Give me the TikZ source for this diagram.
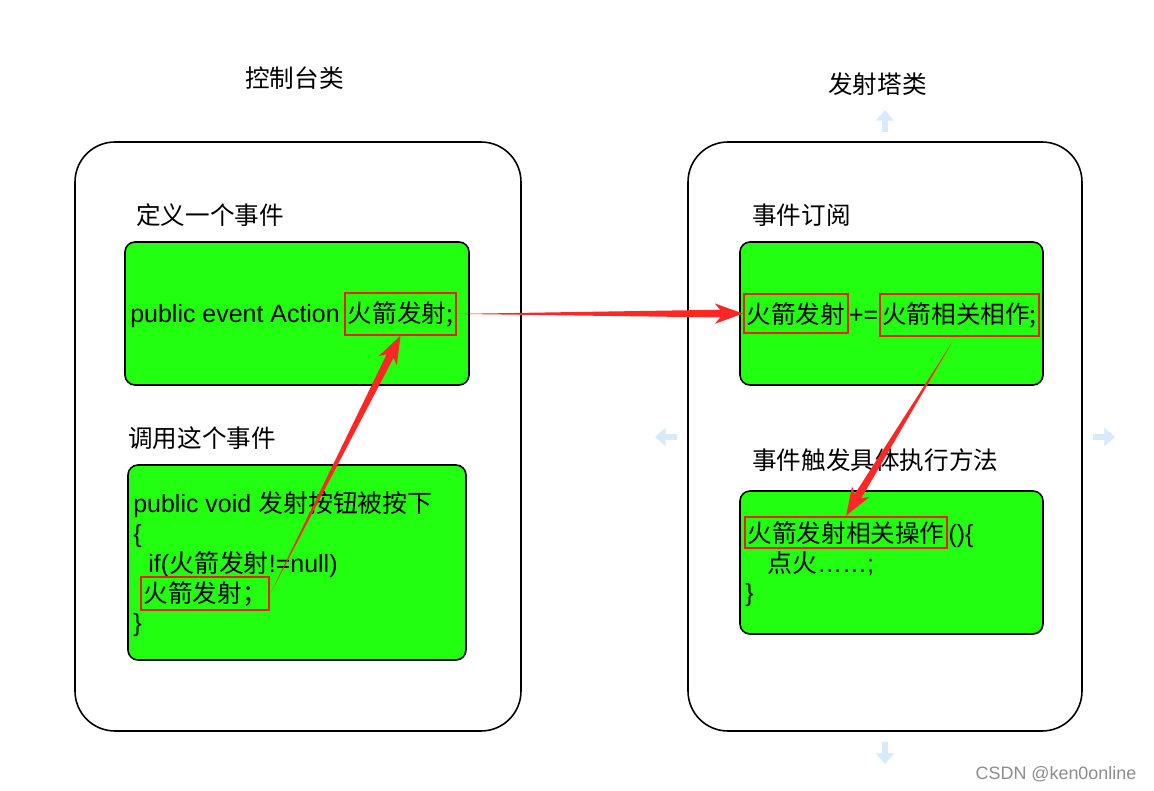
\documentclass[tikz,border=0pt]{standalone}
\usepackage{fontspec}
\setmainfont{Liberation Sans}
\newfontfamily\cjk{Noto Sans CJK SC}
\usetikzlibrary{calc,arrows.meta}

\begin{document}
\begin{tikzpicture}[x=0.02cm,y=-0.02cm,
    lbl/.style={font=\cjk\fontsize{14}{17}\selectfont,anchor=west,inner sep=0pt},
    code/.style={font=\fontsize{14.2}{17}\selectfont,anchor=base west,inner sep=0pt},
    hl/.style={draw=colB,line width=1.2pt,anchor=base west,inner xsep=1.5pt,
               inner ysep=4.5pt,font=\cjk\fontsize{14}{17}\selectfont},
    pane/.style={draw=black,line width=0.9pt,rounded corners=0.8cm},
    card/.style={draw=black,line width=0.9pt,fill=colG,rounded corners=0.2cm},
    taper/.style={fill=colA,to path={
        -- ($(\tikztotarget)!13pt!(\tikztostart)!2.2pt!90:(\tikztotarget)$)
        -- ($(\tikztotarget)!16pt!(\tikztostart)!5.8pt!90:(\tikztotarget)$)
        -- (\tikztotarget)
        -- ($(\tikztotarget)!16pt!(\tikztostart)!5.8pt!-90:(\tikztotarget)$)
        -- ($(\tikztotarget)!13pt!(\tikztostart)!2.2pt!-90:(\tikztotarget)$)
        -- cycle}},
    hint/.style={draw=colH,line width=3pt,-{Triangle[length=6pt,width=10pt]}}]
  \definecolor{colG}{RGB}{34,255,17}
  \definecolor{colA}{RGB}{255,38,38}
  \definecolor{colB}{RGB}{235,30,36}
  \definecolor{colH}{RGB}{214,234,250}
  \useasboundingbox (0,0) rectangle (1154,791);

  % faint hover hints round the launch tower
  \foreach \sx/\sy/\ex/\ey in {885/132/885/110, 677/437/655/437,
                               1093/437/1115/437, 885/742/885/764}
    \draw[hint] (\sx,\sy) -- (\ex,\ey);

  % console class
  \node[lbl] (ttlL) at (245,78) {控制台类};
  \draw[pane] (75,142) rectangle (521,731);
  \node[lbl] (defL) at (136,215) {定义一个事件};
  \draw[card] (125,242) rectangle (469,385);
  \node[code] (t1) at (130,322) {public event Action};
  \node[hl] (r1) at ($(t1.base east)+(4,0)$) {火箭发射;};
  \node[lbl] (callL) at (128,438) {调用这个事件};
  \draw[card] (128,465) rectangle (466,660);
  \node[code] (t2a) at (133,512) {public void {\cjk 发射按钮被按下}};
  \node[code] (t2b) at (133,542) {\{};
  \node[code] (t2c) at (148,572) {if({\cjk 火箭发射}!=null)};
  \node[hl,inner ysep=2.5pt] (r2) at (140,602) {火箭发射；};
  \node[code] (t2d) at (133,631) {\}};

  % launch tower class
  \node[lbl] (ttlR) at (828,84) {发射塔类};
  \draw[pane] (688,142) rectangle (1082,731);
  \node[lbl] (subL) at (752,215) {事件订阅};
  \draw[card] (740,242) rectangle (1043,385);
  \node[hl] (r3) at (743,323) {火箭发射};
  \node[code] (t3) at (r3.base east) {+=};
  \node[hl] (r4) at (t3.base east) {火箭相关相作;};
  \node[lbl] (runL) at (752,460) {事件触发具体执行方法};
  \draw[card] (740,491) rectangle (1043,634);
  \node[hl,inner ysep=2.5pt] (r5) at (744,542) {火箭发射相关操作};
  \node[code] (t4a) at (r5.base east) {()\{};
  \node[code] (t4b) at (767,572) {{\cjk 点火}……;};
  \node[code] (t4c) at (745,601) {\}};

  \fill[taper] (r2.east) to (r1.south);
  \fill[taper] (r1.east) to (r3.west);
  \fill[taper] ($(r4.south)+(-7,5)$) to (r5.north);

  \node[font=\fontsize{10.2}{12}\selectfont,text=black!45] (wm) at (1056,774) {CSDN @ken0online};
\end{tikzpicture}
\end{document}
